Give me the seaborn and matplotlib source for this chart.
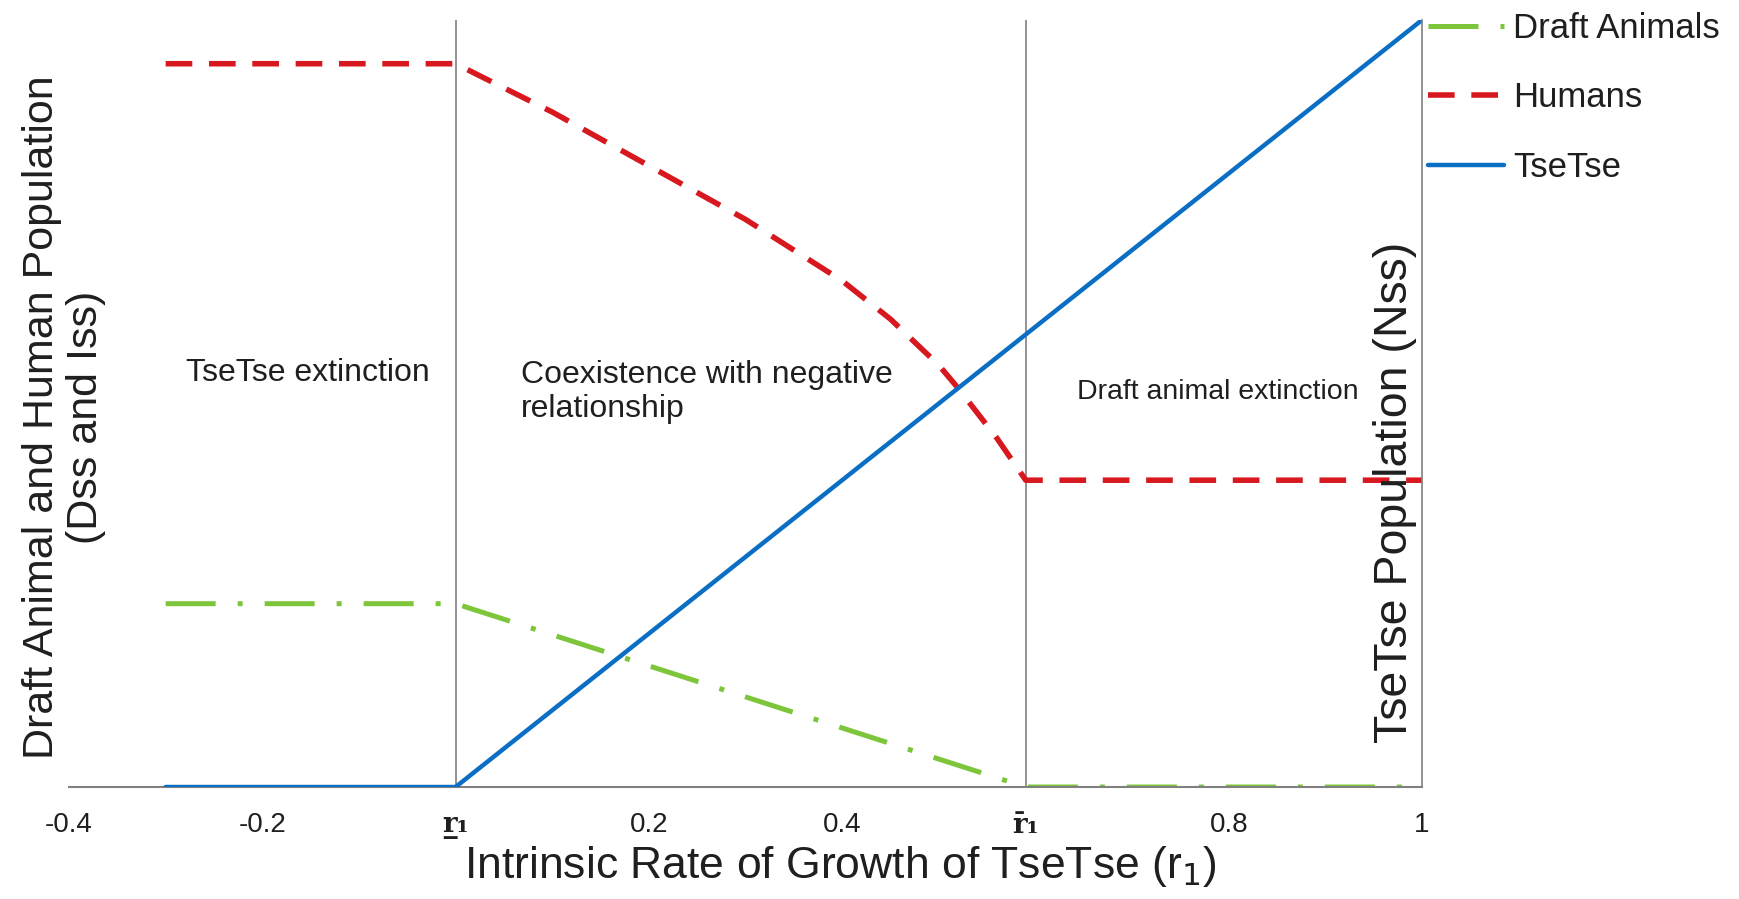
import matplotlib
matplotlib.use("Agg")
import matplotlib.pyplot as plt
import seaborn as sns
import pandas as pd

# ---- data ----
humans_x = [-0.3, 0.0, 0.1, 0.2, 0.3, 0.4, 0.45, 0.5, 0.52, 0.56, 0.59, 1.0]
humans_y = [94.3, 94.3, 88.0, 81.0, 74.0, 66.0, 61.0, 55.0, 52.0, 45.5, 40.0, 40.0]
draft_x = [-0.3, 0.0, 0.59, 1.0]
draft_y = [23.9, 23.9, 0.0, 0.0]
tsetse_x = [-0.3, 0.0, 1.0]
tsetse_y = [0.0, 0.0, 100.0]
thresholds = [0.0, 0.59]
tick_values = [-0.4, -0.2, 0.0, 0.2, 0.4, 0.59, 0.8, 1.0]
tick_labels = ["-0.4", "-0.2", "r\u0332\u2081", "0.2", "0.4",
               "r\u0304\u2081", "0.8", "1"]
region_labels = ["TseTse extinction", "Coexistence with negative\nrelationship",
                 "Draft animal extinction"]
region_x = [-0.279, 0.068, 0.643]
region_y = [54.0, 51.5, 51.5]
region_size = [23, 23, 20.5]

sns.set_theme(style="white")
plt.rcParams['font.family'] = ['Liberation Sans', 'DejaVu Sans']

GREEN = "#7DC63B"
RED = "#D7191F"
BLUE = "#0A6FC4"
GRAY = "#808080"
TXT = "#1f1f1f"

fig = plt.figure(figsize=(17.40, 8.99), dpi=100)
ax = fig.add_axes([69/1740, 1 - 787/899, 1353/1740, 767/899])
ax2 = ax.twinx()

df_h = pd.DataFrame({"x": humans_x, "y": humans_y})
df_d = pd.DataFrame({"x": draft_x, "y": draft_y})
df_t = pd.DataFrame({"x": tsetse_x, "y": tsetse_y})

sns.lineplot(data=df_d, x="x", y="y", ax=ax, color=GREEN, lw=3.6,
             linestyle=(0, (10, 4.4, 1, 4.4)), label="Draft Animals", legend=False)
sns.lineplot(data=df_h, x="x", y="y", ax=ax, color=RED, lw=4.0,
             linestyle=(0, (4.8, 3.0)), label="Humans", legend=False)
sns.lineplot(data=df_t, x="x", y="y", ax=ax2, color=BLUE, lw=3.2,
             label="TseTse", legend=False)

for t in thresholds:
    ax.axvline(t, color=GRAY, lw=1.2, zorder=0)

ax.set_xlim(-0.4, 1.0)
ax.set_ylim(0, 100)
ax2.set_ylim(0, 100)
ax.set_xticks(tick_values)
ax.set_xticklabels(tick_labels, fontsize=20, color=TXT)
for i in (2, 5):
    lbl = ax.get_xticklabels()[i]
    lbl.set_fontfamily(['DejaVu Serif'])
    lbl.set_fontweight('bold')
ax.tick_params(axis='x', length=0, pad=18)
ax.set_yticks([])
ax2.set_yticks([])

for a in (ax, ax2):
    a.spines['top'].set_visible(False)
    a.spines['left'].set_visible(False)
ax.spines['right'].set_visible(False)
ax2.spines['right'].set_visible(True)
ax2.spines['right'].set_color(GRAY)
ax2.spines['right'].set_linewidth(1.2)
ax.spines['bottom'].set_color(GRAY)
ax.spines['bottom'].set_linewidth(1.5)
ax2.spines['bottom'].set_visible(False)

ax.set_xlabel("Intrinsic Rate of Growth of TseTse (r$_1$)", fontsize=32, color=TXT,
              va='center')
ax.xaxis.set_label_coords(0.57, -0.103)
ax.set_ylabel("Draft Animal and Human Population\n(Dss and Iss)", fontsize=31,
              color=TXT, va='center', ha='center', linespacing=1.15)
ax.yaxis.set_label_coords(-0.0037, 0.482)
ax2.set_ylabel("TseTse Population (Nss)", fontsize=33.5, color=TXT, rotation=90,
               va='center', ha='center')
ax2.yaxis.set_label_coords(0.98, 0.384)

for lab, xx, yy, fs in zip(region_labels, region_x, region_y, region_size):
    ax.text(xx, yy, lab, fontsize=fs, color=TXT, ha='left', va='center',
            linespacing=1.2)

h1, l1 = ax.get_legend_handles_labels()
h2, l2 = ax2.get_legend_handles_labels()
fig.legend(h1 + h2, l1 + l2, loc='upper left', bbox_to_anchor=(1428/1740, 1 - 12/899),
           frameon=False, fontsize=25, handlelength=2.2, handletextpad=0.25,
           labelspacing=1.05, borderpad=0, borderaxespad=0, labelcolor=TXT)

fig.savefig("out.png", dpi=100)
